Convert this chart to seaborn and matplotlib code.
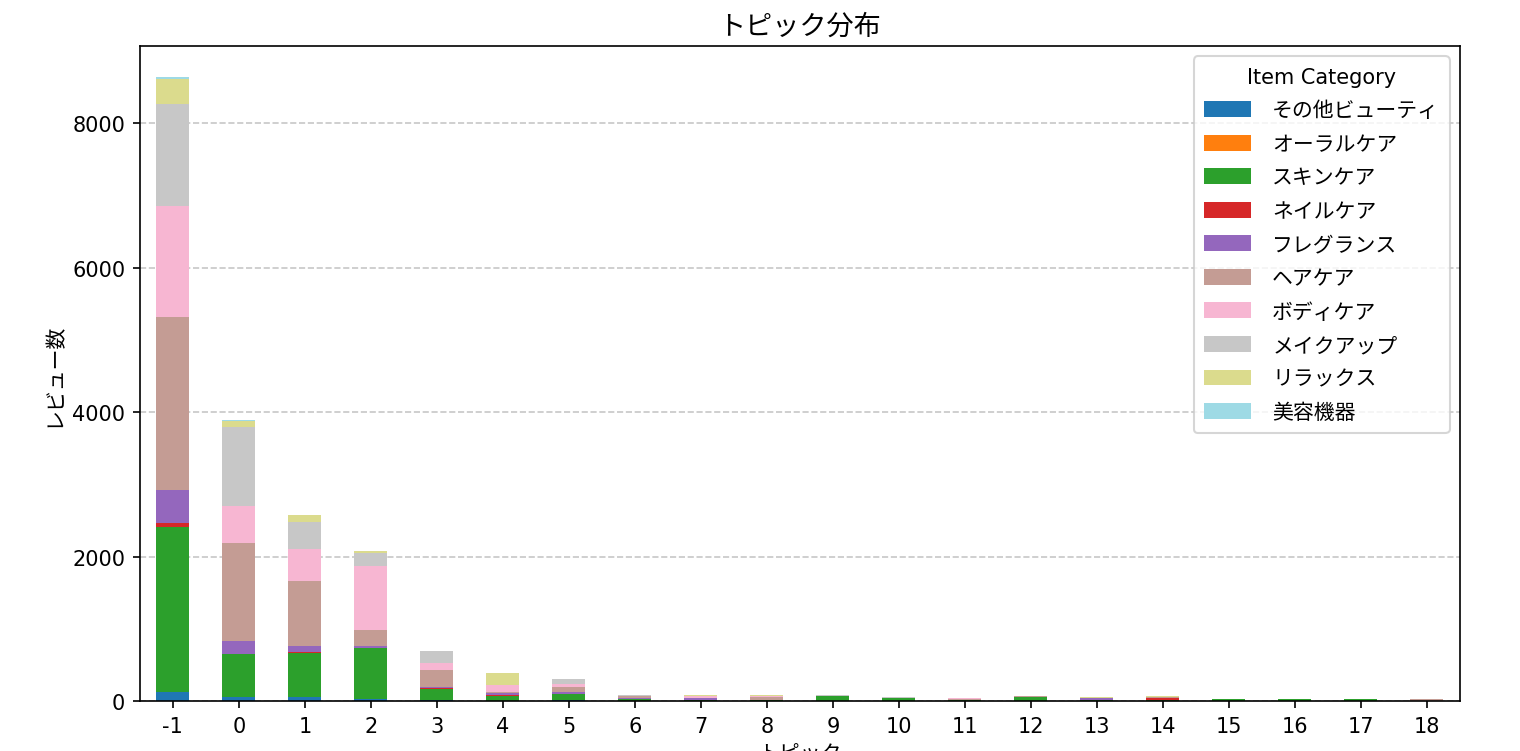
import numpy as np
import pandas as pd
import matplotlib
matplotlib.use("Agg")
import matplotlib.pyplot as plt
import seaborn as sns

plt.rcParams['font.family'] = ['DejaVu Sans', 'Noto Sans CJK JP']

# topic ids and review counts per item category
topics = [-1, 0, 1, 2, 3, 4, 5, 6, 7, 8, 9, 10, 11, 12, 13, 14, 15, 16, 17, 18]
categories = ['その他ビューティ', 'オーラルケア', 'スキンケア', 'ネイルケア', 'フレグランス',
              'ヘアケア', 'ボディケア', 'メイクアップ', 'リラックス', '美容機器']

other_beauty = [120, 57, 57, 23, 10, 5, 8, 3, 2, 2, 3, 2, 2, 3, 2, 2, 2, 2, 2, 2]
oral_care = [5, 2, 1, 1, 1, 1, 1, 0, 0, 0, 0, 0, 0, 0, 0, 0, 0, 0, 0, 0]
skin_care = [2287, 590, 613, 710, 160, 70, 90, 30, 15, 5, 65, 40, 15, 58, 5, 5, 30, 28, 28, 3]
nail_care = [46, 5, 3, 2, 2, 1, 1, 0, 0, 0, 0, 0, 0, 0, 0, 38, 0, 0, 0, 0]
fragrance = [470, 183, 92, 23, 23, 28, 23, 5, 25, 3, 2, 2, 2, 0, 30, 2, 2, 0, 0, 0]
hair_care = [2395, 1347, 894, 218, 231, 18, 69, 28, 5, 52, 3, 2, 5, 2, 3, 2, 0, 0, 0, 28]
body_care = [1530, 510, 447, 894, 97, 97, 46, 5, 25, 3, 2, 2, 20, 2, 2, 2, 0, 0, 0, 0]
makeup = [1410, 1106, 372, 183, 162, 5, 69, 10, 3, 3, 2, 2, 2, 2, 2, 2, 0, 0, 0, 0]
relax = [355, 75, 92, 29, 5, 162, 3, 2, 2, 12, 2, 2, 2, 2, 10, 10, 0, 0, 0, 0]
beauty_device = [20, 17, 3, 0, 0, 0, 0, 0, 0, 0, 0, 0, 0, 0, 0, 0, 0, 0, 0, 0]

counts = pd.DataFrame(
    np.array([other_beauty, oral_care, skin_care, nail_care, fragrance,
              hair_care, body_care, makeup, relax, beauty_device]).T,
    index=[str(t) for t in topics], columns=categories)

colors = plt.get_cmap('tab20')(np.linspace(0, 1, len(categories)))

fig = plt.figure(figsize=(15.2 / 1.5, 7.52 / 1.5), dpi=150)
ax = fig.add_axes([0.092, 0.0665, 0.8685, 0.871])

# stacked bars: draw cumulative totals from the top layer down
cum = counts.cumsum(axis=1)
order = list(counts.index)
for i in reversed(range(len(categories))):
    sns.barplot(x=order, y=cum.iloc[:, i].values, order=order, color=colors[i],
                saturation=1, width=0.5, errorbar=None, label=categories[i], ax=ax)

handles = list(ax.containers)[::-1]
ax.legend(handles, categories, title='Item Category', loc='upper right',
          handlelength=2.25, handleheight=0.8, handletextpad=1.0,
          labelspacing=0.65, borderpad=0.5)

ax.grid(axis='y', linestyle='--', alpha=0.7)
ax.set_axisbelow(True)
ax.set_title('トピック分布', fontsize=13)
ax.set_xlabel('トピック')
ax.set_ylabel('レビュー数')

plt.savefig('out.png', dpi=150)
